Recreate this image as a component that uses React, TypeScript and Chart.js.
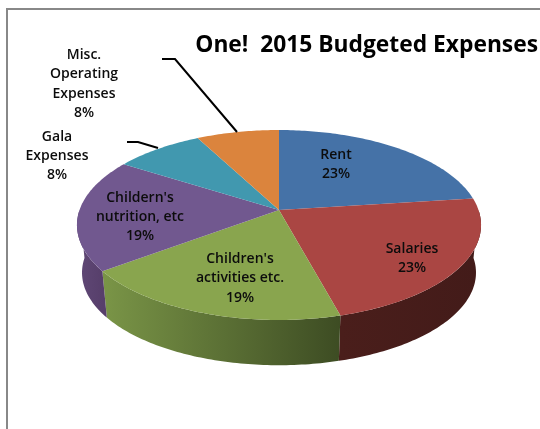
import React, { useEffect, useRef } from "react";
import { Chart, registerables } from "chart.js";

Chart.register(...registerables);

const categories = ["Rent", "Salaries", "Children's activities etc.", "Childern's nutrition, etc", "Gala Expenses", "Misc. Operating Expenses"];
const values = [23, 22.8, 19, 19.2, 8.3, 7.7];
const topColors = ["#4572a7", "#aa4643", "#89a54e", "#71588f", "#4198af", "#db843d"];
const sideLeft = ["#2f4d72", "#4a1e1b", "#7a9547", "#5f4775", "#2c6878", "#955a29"];
const sideRight = ["#2f4d72", "#431b19", "#3d4c23", "#573f6b", "#2c6878", "#955a29"];
const titleText = "One!  2015 Budgeted Expenses";
const labelLines = [
  ["Rent", "23%"],
  ["Salaries", "23%"],
  ["Children's", "activities etc.", "19%"],
  ["Childern's", "nutrition, etc", "19%"],
  ["Gala", "Expenses", "8%"],
  ["Misc.", "Operating", "Expenses", "8%"],
];
const labelAnchors = [
  [336, 155, 19],
  [412, 249, 19],
  [240, 259, 19.5],
  [140, 198, 19],
  [57, 137, 19],
  [84, 55, 19.5],
];
const leaders = [
  [[162, 59], [175, 59], [237, 132]],
  [[127, 142], [138, 142], [158, 148]],
];

// Perspective view of the pie disc
const CX = 279, CY = 210, A = 92.6, B = 199.5, K = 0.158;
const DEPTH_Y = 48, BOTTOM_SCALE = 0.975;

function project(angle: number, lower: boolean): [number, number] {
  const X = Math.cos(angle);
  const Y = Math.sin(angle);
  const w = 1 - K * Y;
  const s = lower ? BOTTOM_SCALE : 1;
  return [CX + (s * B * X) / w, CY + (lower ? DEPTH_Y : 0) + (s * A * Y) / w];
}

function rimPath(ctx: CanvasRenderingContext2D, a0: number, a1: number, lower: boolean, move: boolean) {
  const n = Math.max(4, Math.ceil(Math.abs(a1 - a0) * 60));
  for (let i = 0; i <= n; i++) {
    const p = project(a0 + ((a1 - a0) * i) / n, lower);
    if (i === 0 && move) ctx.moveTo(p[0], p[1]);
    else ctx.lineTo(p[0], p[1]);
  }
}

const pie3d = {
  id: "pie3d",
  beforeDatasetsDraw(chart: any) {
    const ctx: CanvasRenderingContext2D = chart.ctx;
    const arcs = chart.getDatasetMeta(0).data;
    ctx.save();
    // sides, only the front half of the disc shows
    arcs.forEach((arc: any, i: number) => {
      const a0 = Math.max(arc.startAngle, 0);
      const a1 = Math.min(arc.endAngle, Math.PI);
      if (a1 <= a0) return;
      const pa = project(a0, false);
      const pb = project(a1, false);
      const g = ctx.createLinearGradient(pb[0], 0, pa[0], 0);
      g.addColorStop(0, sideLeft[i]);
      g.addColorStop(1, sideRight[i]);
      ctx.beginPath();
      rimPath(ctx, a0, a1, false, true);
      rimPath(ctx, a1, a0, true, false);
      ctx.closePath();
      ctx.fillStyle = g;
      ctx.fill();
    });
    // top face
    arcs.forEach((arc: any, i: number) => {
      ctx.beginPath();
      ctx.moveTo(CX, CY);
      rimPath(ctx, arc.startAngle, arc.endAngle, false, false);
      ctx.closePath();
      ctx.fillStyle = topColors[i];
      ctx.fill();
    });
    ctx.restore();
    return false;
  },
  afterDraw(chart: any) {
    const ctx: CanvasRenderingContext2D = chart.ctx;
    ctx.save();
    ctx.strokeStyle = "#888888";
    ctx.lineWidth = 2;
    ctx.beginPath();
    ctx.moveTo(7, 429);
    ctx.lineTo(7, 9);
    ctx.lineTo(540, 9);
    ctx.stroke();

    ctx.strokeStyle = "#000000";
    ctx.lineWidth = 2;
    leaders.forEach((pts) => {
      ctx.beginPath();
      pts.forEach((p, i) => (i ? ctx.lineTo(p[0], p[1]) : ctx.moveTo(p[0], p[1])));
      ctx.stroke();
    });

    ctx.fillStyle = "#0c0c0c";
    ctx.font = "600 14px 'Open Sans'";
    ctx.textAlign = "center";
    ctx.textBaseline = "middle";
    labelLines.forEach((lines, i) => {
      const [x, y, step] = labelAnchors[i];
      lines.forEach((t, j) => ctx.fillText(t, x, y + j * step));
    });
    ctx.restore();
  },
};

export default function App() {
  const ref = useRef<HTMLCanvasElement>(null);
  useEffect(() => {
    document.body.style.margin = "0";
    document.body.style.overflow = "hidden";
    const chart = new Chart(ref.current!, {
      type: "pie",
      data: {
        labels: categories,
        datasets: [{ data: values, backgroundColor: topColors, borderWidth: 0 }],
      },
      options: {
        responsive: false,
        animation: false,
        plugins: {
          legend: { display: false },
          tooltip: { enabled: false },
          title: {
            display: true,
            text: titleText,
            align: "end",
            color: "#000000",
            font: { family: "'Open Sans'", size: 22.8, weight: "bold" },
            padding: { top: 32, bottom: 0 },
          },
        },
        layout: { padding: { right: 2 } },
      },
      plugins: [pie3d],
    });
    return () => chart.destroy();
  }, []);
  return <canvas ref={ref} width={540} height={429} style={{ display: "block", background: "#ffffff", filter: "blur(0.4px)" }} />;
}
